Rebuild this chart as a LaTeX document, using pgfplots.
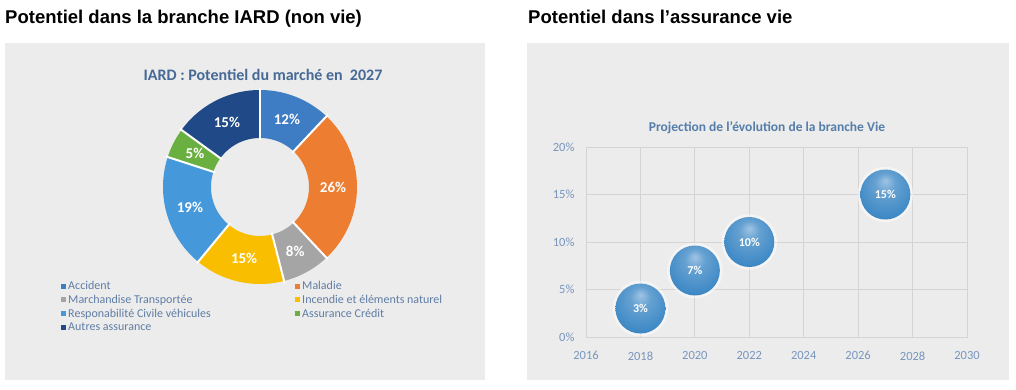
\documentclass[border=0pt]{standalone}
\usepackage{fontspec}
\setmainfont{Carlito}
\newfontfamily\headfont{Liberation Sans}
\usepackage{pgfplots}
\pgfplotsset{compat=1.18}
\usepackage{pgfplotstable}
\definecolor{panel}{RGB}{236,236,236}
\definecolor{cAcc}{RGB}{62,124,196}
\definecolor{cMal}{RGB}{237,125,49}
\definecolor{cMar}{RGB}{165,165,165}
\definecolor{cInc}{RGB}{250,190,0}
\definecolor{cRC}{RGB}{69,153,219}
\definecolor{cCre}{RGB}{106,176,64}
\definecolor{cAut}{RGB}{32,74,135}
\definecolor{ctitle}{RGB}{70,105,150}
\definecolor{ctitleb}{RGB}{84,125,170}
\definecolor{clegend}{RGB}{95,125,165}
\definecolor{ctick}{RGB}{120,150,190}
\definecolor{cgrid}{RGB}{212,212,212}
\definecolor{cbub}{RGB}{64,138,198}
\definecolor{cbubhi}{RGB}{160,196,228}
\pgfdeclareradialshading{bubble}{\pgfpoint{0bp}{14bp}}{color(0bp)=(cbubhi); color(10bp)=(cbub!80!white); color(28bp)=(cbub); color(43bp)=(cbub!75!black); color(50bp)=(cbub!58!black)}
\pgfdeclareplotmark{bubble}{\pgfpathcircle{\pgfpointorigin}{\pgfplotmarksize}\pgfshadepath{bubble}{0}\pgfusepath{}}
\newcommand\pctfont{\bfseries\fontsize{15pt}{17pt}\selectfont}
\gdef\donutcum{0}
\newcommand{\seg}[3]{%
  \pgfmathsetmacro\aS{90-3.6*\donutcum}%
  \pgfmathsetmacro\aE{90-3.6*(\donutcum+#1)}%
  \pgfmathsetmacro\aM{(\aS+\aE)/2}%
  \edef\doseg{%
    \noexpand\addplot[color=#2, line width=48pt, domain=\aE:\aS, samples=90] ({73*cos(x)},{73*sin(x)});%
  }\doseg
  \addlegendentry{#3}%
  \edef\dosep{%
    \noexpand\addplot[white, line width=2pt, domain=47:99, samples=2, forget plot] ({x*cos(\aS)},{x*sin(\aS)});%
    \noexpand\node[font=\noexpand\pctfont, text=white] at (axis cs:{73*cos(\aM)},{73*sin(\aM)}) {#1\noexpand\%};%
  }\dosep
  \pgfmathparse{\donutcum+#1}\xdef\donutcum{\pgfmathresult}%
}
\pgfplotstableread{
year share
2018 3
2020 7
2022 10
2027 15
}\vie
\begin{document}
\begin{tikzpicture}
\useasboundingbox (0,0) rectangle (1016pt,389pt);
\fill[white] (0,0) rectangle (1016pt,389pt);
\fill[panel] (5pt,9pt) rectangle (485pt,346pt);
\fill[panel] (527pt,9pt) rectangle (1009pt,346pt);
\node[anchor=base west, inner sep=0pt] at (5pt,365pt) {\headfont\bfseries\fontsize{18.5pt}{20pt}\selectfont Potentiel dans la branche IARD (non vie)};
\node[anchor=base west, inner sep=0pt] at (528pt,365pt) {\headfont\bfseries\fontsize{18.5pt}{20pt}\selectfont Potentiel dans l’assurance vie};
\begin{axis}[at={(260pt,202pt)}, anchor=center, scale only axis, width=240pt, height=240pt,
  xmin=-120, xmax=120, ymin=-120, ymax=120, hide axis, clip=false,
  title={IARD : Potentiel du marché en\ \ 2027},
  title style={at={(0.5125,0.967)}, anchor=center, yshift=-6pt, font=\bfseries\fontsize{16pt}{18pt}\selectfont, text=ctitle},
  legend columns=2, legend cell align=left,
  legend style={at={(-0.329,0.117)}, anchor=north west, draw=none, fill=none, inner sep=0pt,
    font=\fontsize{12pt}{14pt}\selectfont, text=clegend, row sep=0pt},
  legend image code/.code={\path[draw=none, fill] (0pt,-2.5pt) rectangle (5pt,2.5pt);},
]
\seg{12}{cAcc}{\makebox[225pt][l]{Accident}}
\seg{26}{cMal}{Maladie}
\seg{8}{cMar}{\makebox[225pt][l]{Marchandise Transportée}}
\seg{15}{cInc}{Incendie et éléments naturel}
\seg{19}{cRC}{\makebox[225pt][l]{Responabilité Civile véhicules}}
\seg{5}{cCre}{Assurance Crédit}
\seg{15}{cAut}{Autres assurance}
\addplot[white, line width=2pt, domain=47:99, samples=2, forget plot] ({x*cos(90)},{x*sin(90)});
\end{axis}
\begin{axis}[at={(586pt,52pt)}, anchor=south west, scale only axis, width=381pt, height=190pt,
  xmin=2016, xmax=2030, ymin=0, ymax=20,
  xtick={2016,2018,...,2030}, ytick={0,5,...,20},
  grid=major, major grid style={draw=cgrid, line width=1pt},
  axis line style={draw=cgrid, line width=1pt}, major tick length=0pt,
  tick label style={text=ctick, font=\fontsize{12.5pt}{14pt}\selectfont},
  /pgf/number format/assume math mode=true,
  x tick label style={/pgf/number format/1000 sep={}, yshift=-11pt},
  y tick label style={xshift=-8pt},
  yticklabel={\pgfmathprintnumber{\tick}\%},
  title={Projection de l’évolution de la branche Vie},
  title style={at={(0.475,1.1)}, anchor=center, yshift=-6pt, font=\bfseries\fontsize{13.5pt}{15pt}\selectfont, text=ctitleb},
  clip=false]
\addplot[only marks, mark=*, mark size=27.5pt, white, opacity=0.45] table[x=year,y=share]{\vie};
\addplot[only marks, mark=bubble, mark size=25pt, point meta=y,
  nodes near coords={\pgfmathprintnumber{\pgfplotspointmeta}\%},
  nodes near coords style={anchor=center, text=white, font=\bfseries\fontsize{12pt}{14pt}\selectfont}]
  table[x=year,y=share]{\vie};
\end{axis}
\end{tikzpicture}
\end{document}
